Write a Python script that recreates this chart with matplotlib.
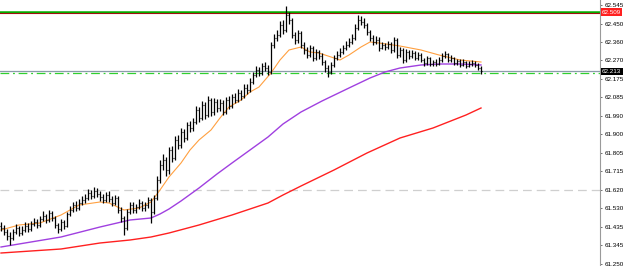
import numpy as np
import matplotlib
matplotlib.use("Agg")
import matplotlib.pyplot as plt

# bar closes, highs and lows (price), one bar per 3 px
closes = [61.430, 61.410, 61.390, 61.380, 61.410, 61.430, 61.405, 61.420, 61.440, 61.425,
          61.450, 61.460, 61.445, 61.475, 61.490, 61.470, 61.505, 61.480, 61.445, 61.425,
          61.460, 61.440, 61.500, 61.520, 61.545, 61.530, 61.555, 61.570, 61.580, 61.605,
          61.590, 61.615, 61.600, 61.585, 61.570, 61.595, 61.575, 61.555, 61.580, 61.520,
          61.480, 61.430, 61.510, 61.545, 61.520, 61.535, 61.555, 61.530, 61.545, 61.570,
          61.510, 61.580, 61.670, 61.745, 61.770, 61.720, 61.820, 61.780, 61.870, 61.845,
          61.910, 61.880, 61.945, 61.930, 61.960, 62.020, 61.980, 62.045, 61.995, 62.070,
          62.010, 62.060, 62.030, 62.055, 62.010, 62.070, 62.040, 62.085, 62.070, 62.105,
          62.090, 62.130, 62.120, 62.160, 62.195, 62.220, 62.205, 62.240, 62.230, 62.210,
          62.345, 62.380, 62.395, 62.445, 62.420, 62.495, 62.470, 62.395, 62.370, 62.405,
          62.345, 62.320, 62.295, 62.330, 62.280, 62.310, 62.290, 62.260, 62.230, 62.210,
          62.245, 62.280, 62.295, 62.310, 62.330, 62.345, 62.360, 62.380, 62.430, 62.470,
          62.460, 62.445, 62.410, 62.380, 62.360, 62.370, 62.330, 62.345, 62.335, 62.350,
          62.320, 62.370, 62.295, 62.320, 62.270, 62.310, 62.290, 62.305, 62.280, 62.295,
          62.270, 62.255, 62.280, 62.250, 62.260, 62.250, 62.270, 62.290, 62.300, 62.270,
          62.280, 62.255, 62.265, 62.245, 62.260, 62.240, 62.250, 62.255, 62.245, 62.230,
          62.213]
highs = [61.460, 61.445, 61.425, 61.410, 61.425, 61.450, 61.440, 61.440, 61.460, 61.455,
         61.465, 61.480, 61.475, 61.490, 61.515, 61.500, 61.520, 61.515, 61.490, 61.455,
         61.475, 61.470, 61.510, 61.540, 61.560, 61.565, 61.575, 61.590, 61.600, 61.625,
         61.620, 61.635, 61.630, 61.615, 61.600, 61.610, 61.615, 61.590, 61.595, 61.590,
         61.535, 61.490, 61.525, 61.560, 61.560, 61.550, 61.575, 61.565, 61.560, 61.585,
         61.580, 61.595, 61.690, 61.770, 61.800, 61.785, 61.835, 61.840, 61.890, 61.895,
         61.930, 61.925, 61.960, 61.965, 61.980, 62.040, 62.035, 62.065, 62.060, 62.090,
         62.080, 62.080, 62.075, 62.075, 62.070, 62.085, 62.090, 62.100, 62.105, 62.125,
         62.120, 62.150, 62.150, 62.180, 62.210, 62.240, 62.235, 62.255, 62.260, 62.245,
         62.360, 62.400, 62.420, 62.465, 62.470, 62.540, 62.510, 62.480, 62.410, 62.420,
         62.415, 62.360, 62.335, 62.345, 62.340, 62.325, 62.320, 62.305, 62.270, 62.245,
         62.260, 62.295, 62.315, 62.330, 62.345, 62.365, 62.380, 62.400, 62.450, 62.495,
         62.490, 62.480, 62.455, 62.420, 62.395, 62.390, 62.385, 62.360, 62.355, 62.365,
         62.360, 62.385, 62.380, 62.335, 62.330, 62.325, 62.320, 62.320, 62.315, 62.310,
         62.305, 62.280, 62.290, 62.285, 62.270, 62.275, 62.285, 62.305, 62.315, 62.305,
         62.295, 62.285, 62.275, 62.275, 62.275, 62.265, 62.265, 62.270, 62.265, 62.255,
         62.240]
lows = [61.415, 61.395, 61.370, 61.345, 61.370, 61.400, 61.390, 61.395, 61.410, 61.410,
        61.415, 61.440, 61.430, 61.435, 61.465, 61.455, 61.460, 61.465, 61.430, 61.405,
        61.415, 61.425, 61.435, 61.490, 61.510, 61.515, 61.520, 61.545, 61.555, 61.570,
        61.575, 61.580, 61.585, 61.565, 61.555, 61.560, 61.560, 61.540, 61.545, 61.505,
        61.460, 61.395, 61.420, 61.500, 61.505, 61.505, 61.525, 61.515, 61.515, 61.530,
        61.455, 61.500, 61.570, 61.655, 61.720, 61.690, 61.700, 61.760, 61.770, 61.825,
        61.830, 61.860, 61.870, 61.910, 61.915, 61.950, 61.960, 61.970, 61.975, 61.985,
        61.990, 61.995, 62.010, 62.015, 61.995, 62.000, 62.025, 62.030, 62.055, 62.060,
        62.070, 62.080, 62.100, 62.110, 62.150, 62.185, 62.190, 62.195, 62.215, 62.195,
        62.200, 62.330, 62.365, 62.385, 62.400, 62.410, 62.450, 62.380, 62.350, 62.355,
        62.330, 62.300, 62.280, 62.285, 62.265, 62.270, 62.275, 62.245, 62.210, 62.185,
        62.200, 62.235, 62.270, 62.285, 62.300, 62.320, 62.335, 62.350, 62.370, 62.420,
        62.445, 62.430, 62.395, 62.365, 62.345, 62.350, 62.315, 62.325, 62.320, 62.325,
        62.305, 62.310, 62.280, 62.285, 62.255, 62.260, 62.275, 62.280, 62.270, 62.270,
        62.260, 62.240, 62.245, 62.240, 62.240, 62.240, 62.245, 62.260, 62.280, 62.260,
        62.260, 62.245, 62.245, 62.235, 62.240, 62.230, 62.235, 62.240, 62.235, 62.220,
        62.200]
first_open = 61.440

# moving averages (bar index, price)
ma_fast_x = [0, 6, 13, 20, 26, 33, 36, 41, 46, 50, 53, 56, 60, 63, 66, 70, 73, 76, 80,
             83, 86, 90, 93, 96, 100, 103, 106, 110, 113, 116, 120, 123, 126, 133, 140,
             146, 153, 160]
ma_fast_y = [61.420, 61.445, 61.455, 61.495, 61.545, 61.560, 61.555, 61.520, 61.530,
             61.560, 61.620, 61.685, 61.755, 61.820, 61.870, 61.920, 61.980, 62.035,
             62.070, 62.110, 62.135, 62.205, 62.270, 62.320, 62.335, 62.310, 62.305,
             62.285, 62.270, 62.295, 62.335, 62.360, 62.355, 62.340, 62.320, 62.295,
             62.270, 62.260]
ma_mid_x = [0, 10, 20, 33, 43, 50, 53, 56, 60, 66, 72, 77, 83, 89, 94, 100, 107, 116,
            123, 128, 133, 140, 146, 153, 160]
ma_mid_y = [61.335, 61.360, 61.385, 61.435, 61.470, 61.480, 61.500, 61.525, 61.565,
            61.630, 61.700, 61.755, 61.820, 61.885, 61.950, 62.010, 62.065, 62.130,
            62.180, 62.210, 62.230, 62.245, 62.250, 62.250, 62.245]
ma_slow_x = [0, 20, 33, 43, 50, 56, 66, 77, 89, 94, 100, 111, 122, 133, 144, 155, 160]
ma_slow_y = [61.305, 61.325, 61.355, 61.370, 61.385, 61.405, 61.445, 61.495, 61.555,
             61.595, 61.640, 61.720, 61.805, 61.880, 61.930, 61.995, 62.030]

tick_vals = [62.545, 62.450, 62.360, 62.270, 62.175, 62.085, 61.990, 61.900, 61.805,
             61.715, 61.620, 61.530, 61.435, 61.345, 61.250]
resist_level = 62.509
bid_level = 62.213
dashdot_level = 62.205
gray_level = 61.620

idx = np.arange(len(closes))
opens = [first_open] + closes[:-1]

plt.rcParams['font.family'] = ['Liberation Sans', 'DejaVu Sans']

fig = plt.figure(figsize=(6.25, 2.66), dpi=100)
ax = fig.add_axes([0, 0, 600 / 625, 1])
ax.set_xlim(-1 / 3, 599 / 3)
ax.set_ylim(62.57 - 266 / 200, 62.57)

# level lines
ax.axhline(gray_level, color="#cfcfcf", lw=0.9, ls=(0, (7, 4)))
ax.axhline(resist_level + 0.003, color="#00b000", lw=1.8)
ax.axhline(resist_level - 0.003, color="#a01010", lw=0.8)
ax.axhline(bid_level, color="#8c9cab", lw=0.9)
ax.axhline(dashdot_level, color="#30d030", lw=0.9, ls=(0, (7, 3, 1.5, 3)))

# moving averages
ax.plot(ma_slow_x, ma_slow_y, color="#ff2020", lw=1.0)
ax.plot(ma_mid_x, ma_mid_y, color="#a040e0", lw=1.0)
ax.plot(ma_fast_x, ma_fast_y, color="#ffa040", lw=0.8)

# OHLC bars
ax.vlines(idx, lows, highs, color="black", lw=0.9)
ax.hlines(opens, idx - 0.45, idx, color="black", lw=0.8)
ax.hlines(closes, idx, idx + 0.45, color="black", lw=0.8)

for s in ["left", "top", "bottom"]:
    ax.spines[s].set_visible(False)
ax.spines["right"].set_color("#9a9a9a")
ax.set_xticks([])
ax.yaxis.tick_right()
ax.set_yticks(tick_vals)
ax.set_yticklabels(["%.3f" % v for v in tick_vals])
ax.tick_params(axis="y", length=1.5, width=0.7, color="#707070", pad=1.5,
               labelsize=4.5, labelcolor="black")

# price boxes on the axis
ax.annotate("%.3f" % resist_level, xy=(1.0, resist_level),
            xycoords=("axes fraction", "data"), xytext=(1.5, 0),
            textcoords="offset points", fontsize=4.5, color="white", va="center",
            bbox=dict(boxstyle="square,pad=0.2", fc="#ff2020", ec="none"))
ax.annotate("%.3f" % bid_level, xy=(1.0, bid_level),
            xycoords=("axes fraction", "data"), xytext=(1.5, 0),
            textcoords="offset points", fontsize=4.5, color="white", va="center",
            bbox=dict(boxstyle="square,pad=0.2", fc="black", ec="none"))

fig.savefig("out.png", dpi=100)
